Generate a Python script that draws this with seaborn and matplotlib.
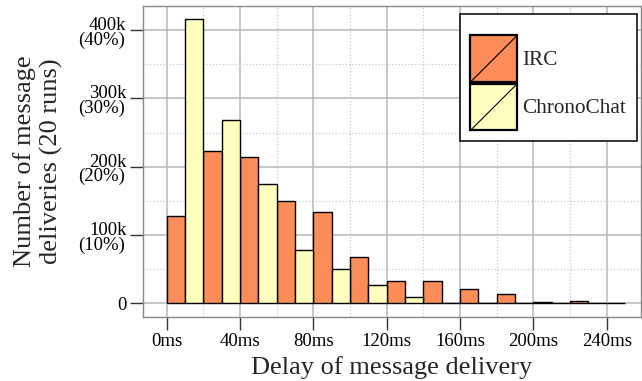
import matplotlib
matplotlib.use("Agg")
import matplotlib.pyplot as plt
import numpy as np
import pandas as pd
import seaborn as sns
from matplotlib.ticker import MultipleLocator
from matplotlib.patches import Rectangle, Patch
from matplotlib.lines import Line2D
from matplotlib.legend_handler import HandlerBase

# ---- data ----
bin_centers_ms = [10, 30, 50, 70, 90, 110, 130, 150, 170, 190, 210, 230, 250]
irc_counts = [128000, 223000, 214000, 150000, 133000, 68000, 32000, 33000,
              20500, 13500, 1500, 3000, 500]
chrono_counts = [416000, 268000, 174000, 77500, 50000, 26000, 9000, 0,
                 0, 0, 0, 0]
series_names = ["IRC", "ChronoChat"]
series_colors = ["#FC8D59", "#FFFFBF"]

x_tick_values = [0, 40, 80, 120, 160, 200, 240]
x_tick_labels = ["0ms", "40ms", "80ms", "120ms", "160ms", "200ms", "240ms"]
y_tick_values = [0, 100000, 200000, 300000, 400000]
y_tick_labels = ["0", "100k", "200k", "300k", "400k"]
y_tick_sublabels = ["", "(10%)", "(20%)", "(30%)", "(40%)"]

x_label = "Delay of message delivery"
y_label = "Number of message\ndeliveries (20 runs)"

rows = []
for c, v in zip(bin_centers_ms, irc_counts):
    rows.append({"center": c, "count": v, "series": series_names[0]})
for c, v in zip(bin_centers_ms, chrono_counts):
    rows.append({"center": c, "count": v, "series": series_names[1]})
df = pd.DataFrame(rows)

# ---- style ----
sns.set_theme(style="white")
plt.rcParams["font.family"] = ["Liberation Serif", "DejaVu Serif"]
plt.rcParams["mathtext.fontset"] = "stix"

fig = plt.figure(figsize=(6.42, 3.81), dpi=100)
ax = fig.add_axes([143 / 642, 1 - 316.5 / 381, 498 / 642, 310.5 / 381])

sns.barplot(data=df, x="center", y="count", hue="series",
            hue_order=series_names, palette=series_colors,
            native_scale=True, dodge=True, width=1.0, gap=0,
            saturation=1, errorbar=None, edgecolor="black",
            linewidth=1.0, legend=False, ax=ax, zorder=3)

ax.set_xlim(-12.9, 258.7)
ax.set_ylim(-19500, 435500)

ax.set_xticks(x_tick_values, x_tick_labels)
ax.set_yticks(y_tick_values, y_tick_labels)
ax.xaxis.set_minor_locator(MultipleLocator(20))
ax.yaxis.set_minor_locator(MultipleLocator(50000))

ax.set_axisbelow(True)
ax.grid(which="major", color="#b8b8b8", linewidth=1.1, linestyle="-")
ax.grid(which="minor", color="#c8c8c8", linewidth=0.9, linestyle=":")

ax.tick_params(which="major", length=9.2, width=1.0, color="#333333",
               labelsize=13.5, labelcolor="black", direction="out",
               left=True, bottom=True)
ax.tick_params(axis="y", pad=2.6)
ax.tick_params(axis="x", pad=3.0)
ax.tick_params(which="minor", length=0)
for t, lab in zip(ax.get_yticklabels(), y_tick_labels):
    if lab != "0":
        t.set_verticalalignment("baseline")

# second line of the y tick labels (percentages)
for v, sub in zip(y_tick_values, y_tick_sublabels):
    if sub:
        ax.annotate(sub, xy=(0, v), xycoords=("axes fraction", "data"),
                    xytext=(-13.3, -10.6), textcoords="offset points",
                    ha="right", va="baseline", fontsize=13.5,
                    color="black", annotation_clip=False)

for s in ax.spines.values():
    s.set_color("#888888")
    s.set_linewidth(1.0)
    s.set_visible(True)

ax.set_xlabel(x_label, fontsize=19)
ax.set_ylabel(y_label, fontsize=19, linespacing=1.2)
ax.xaxis.set_label_coords(0.5, -0.128)
ax.yaxis.set_label_coords(-0.161, 0.5)


class DiagHandler(HandlerBase):
    def create_artists(self, legend, orig_handle, xdescent, ydescent,
                       width, height, fontsize, trans):
        x0, y0 = -xdescent, -ydescent
        r = Rectangle((x0, y0), width, height,
                      facecolor=orig_handle.get_facecolor(),
                      edgecolor="black", linewidth=1.6, transform=trans)
        ln = Line2D([x0, x0 + width], [y0, y0 + height], color="black",
                    linewidth=0.8, transform=trans)
        return [r, ln]


handles = [Patch(facecolor=c, edgecolor="black") for c in series_colors]
leg = ax.legend(handles, series_names, loc="upper right",
                bbox_to_anchor=(0.992, 0.974), borderaxespad=0,
                fontsize=15.3, handlelength=2.2, handleheight=3.0,
                handletextpad=0.25, labelspacing=0.08, borderpad=0.5,
                fancybox=False, framealpha=1, edgecolor="black",
                title=" ", title_fontsize=8,
                handler_map={Patch: DiagHandler()})
leg.get_frame().set_linewidth(1.1)
leg.set_zorder(5)

fig.savefig("out.png", dpi=100)
